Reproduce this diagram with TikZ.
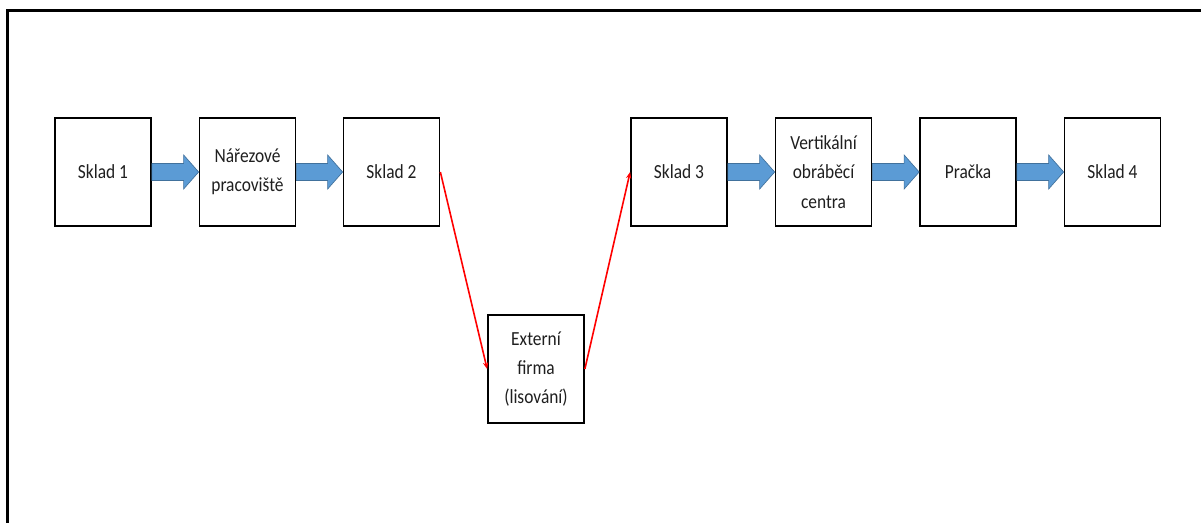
\documentclass[tikz,border=0pt]{standalone}
\usepackage{fontspec}
\setmainfont{Carlito}[FakeStretch=0.87]
\usetikzlibrary{calc,arrows.meta}
\definecolor{barfill}{HTML}{5B9BD5}
\definecolor{barline}{HTML}{41719C}
\tikzset{
  box/.style={draw=black, line width=1.3pt, minimum width=96*0.75pt, minimum height=108*0.75pt,
    inner sep=2pt, align=center, font=\fontsize{15}{22}\selectfont, text=black!88},
  barrow/.style={fill=barfill, draw=barline, line width=0.5pt},
  redarrow/.style={draw=red, line width=1.2pt, -{Stealth[length=5pt,width=4pt]}},
}
\newcommand\blockarrow[2]{%
  \draw[barrow] ($(#1.east)+(0,8.5)$) -- ($(#2.west)+(-15,8.5)$) -- ($(#2.west)+(-15,17)$)
    -- (#2.west) -- ($(#2.west)+(-15,-17)$) -- ($(#2.west)+(-15,-8.5)$)
    -- ($(#1.east)+(0,-8.5)$) -- cycle;}
\begin{document}
\begin{tikzpicture}[x=0.75pt,y=-0.75pt]
\useasboundingbox (0,0) rectangle (1201,522);
\fill[white] (0,0) rectangle (1201,522);
\draw[line width=1.6pt] (7.5,523) -- (7.5,10.5) -- (1202,10.5);
\node[box] (s1) at (103,172) {Sklad 1};
\node[box] (nar) at (247.5,172) {Nářezové\\pracoviště};
\node[box] (s2) at (391.5,172) {Sklad 2};
\node[box] (s3) at (679,172) {Sklad 3};
\node[box] (vert) at (823.5,172) {Vertikální\\obráběcí\\centra};
\node[box] (pr) at (968,172) {Pračka};
\node[box] (s4) at (1112.5,172) {Sklad 4};
\node[box] (ext) at (536,369) {Externí\\firma\\(lisování)};
\blockarrow{s1}{nar}
\blockarrow{nar}{s2}
\blockarrow{s3}{vert}
\blockarrow{vert}{pr}
\blockarrow{pr}{s4}
\draw[redarrow] (s2.east) -- (ext.west);
\draw[redarrow] (ext.east) -- (s3.west);
\end{tikzpicture}
\end{document}
